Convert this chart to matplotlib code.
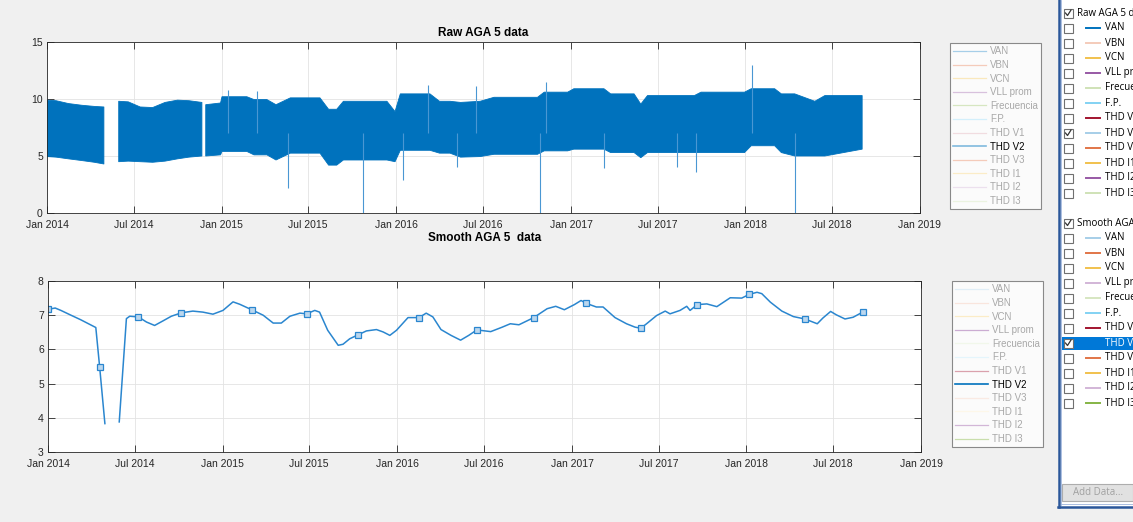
import numpy as np
import pandas as pd
import matplotlib
matplotlib.use('Agg')
import matplotlib.pyplot as plt
import matplotlib.dates as mdates
from matplotlib.lines import Line2D
from matplotlib.patches import Rectangle
from matplotlib.colors import to_rgb

plt.rcParams['font.family'] = ['Liberation Sans', 'DejaVu Sans']

# ------------------------------------------------------------------ data
tick_labels = ['Jan 2014', 'Jul 2014', 'Jan 2015', 'Jul 2015', 'Jan 2016', 'Jul 2016',
               'Jan 2017', 'Jul 2017', 'Jan 2018', 'Jul 2018', 'Jan 2019']

series_names = ['VAN', 'VBN', 'VCN', 'VLL prom', 'Frecuencia', 'F.P.',
                'THD V1', 'THD V2', 'THD V3', 'THD I1', 'THD I2', 'THD I3']
series_colors = ['#0072BD', '#D95319', '#EDB120', '#7E2F8E', '#77AC30', '#4DBEEE',
                 '#A2142F', '#0072BD', '#D95319', '#EDB120', '#7E2F8E', '#77AC30']

# Raw THD V2: envelope of the dense band (upper / lower), NaN = gap
raw_dates = ['2014-01-01', '2014-01-20', '2014-02-15', '2014-03-15', '2014-04-10', '2014-04-30',
             '2014-05-15',
             '2014-05-31', '2014-06-20', '2014-07-15', '2014-08-10', '2014-09-05', '2014-10-01',
             '2014-10-25', '2014-11-21',
             '2014-11-25',
             '2014-11-29', '2014-12-30', '2015-01-02', '2015-02-23', '2015-03-10', '2015-04-06',
             '2015-04-25', '2015-05-25', '2015-07-26', '2015-08-13', '2015-08-30', '2015-09-13',
             '2015-12-13', '2015-12-30', '2016-01-10', '2016-03-12', '2016-04-01', '2016-04-23',
             '2016-05-15', '2016-06-25', '2016-07-24', '2016-10-23', '2016-11-06', '2016-12-25',
             '2017-01-07', '2017-03-11', '2017-03-25', '2017-05-13', '2017-05-27', '2017-06-10',
             '2017-09-16', '2017-09-30', '2017-12-30', '2018-01-13', '2018-03-03', '2018-03-17',
             '2018-04-14', '2018-05-26', '2018-06-16', '2018-09-02']
raw_high = [9.9, 9.85, 9.6, 9.45, 9.35, 9.3,
            np.nan,
            9.8, 9.75, 9.3, 9.25, 9.7, 9.9, 9.85, 9.7,
            np.nan,
            9.5, 9.65, 10.2, 10.2, 9.95, 9.95, 9.5, 10.1, 10.1, 9.1, 9.1, 9.8,
            9.8, 8.9, 10.45, 10.45, 9.8, 9.8, 9.7, 9.8, 10.15, 10.15, 10.6, 10.6,
            10.9, 10.9, 10.45, 10.45, 9.55, 10.3, 10.3, 10.6, 10.6, 10.9, 10.9, 10.45,
            10.45, 9.8, 10.3, 10.3]
raw_low = [4.95, 4.9, 4.75, 4.6, 4.45, 4.3,
           np.nan,
           4.5, 4.55, 4.5, 4.45, 4.55, 4.75, 4.9, 5.0,
           np.nan,
           5.0, 5.1, 5.4, 5.4, 5.1, 5.1, 4.65, 5.25, 5.25, 4.2, 4.2, 4.65,
           4.65, 4.5, 5.5, 5.5, 5.25, 5.25, 4.9, 4.95, 5.15, 5.15, 5.45, 5.45,
           5.6, 5.6, 5.3, 5.3, 4.85, 5.3, 5.3, 5.3, 5.3, 5.9, 5.9, 5.3,
           5.0, 5.0, 5.0, 5.6]

# isolated spikes of the raw series
spike_dates = ['2015-01-14', '2015-03-16', '2015-05-21', '2015-10-23', '2016-01-15', '2016-03-07',
               '2016-05-08', '2016-06-17', '2016-10-28', '2016-11-10', '2017-03-11', '2017-08-11',
               '2017-09-19', '2018-01-15', '2018-04-15']
spike_values = [10.75, 10.7, 2.15, 0.0, 2.9, 11.25, 4.06, 11.1, 0.0, 11.5, 3.97, 4.03,
                3.6, 13.0, 0.0]

# Smoothed THD V2
smooth_dates = ['2014-01-01', '2014-01-16', '2014-01-28', '2014-02-18', '2014-03-10', '2014-04-11',
                '2014-04-19', '2014-04-30', '2014-05-15', '2014-05-30', '2014-06-14', '2014-06-21',
                '2014-07-09', '2014-07-26', '2014-08-12', '2014-08-29', '2014-09-16', '2014-10-07',
                '2014-10-31', '2014-11-21', '2014-12-12', '2015-01-02', '2015-01-23', '2015-02-06',
                '2015-03-03', '2015-03-27', '2015-04-17', '2015-05-04', '2015-05-22', '2015-06-12',
                '2015-06-26', '2015-07-13', '2015-07-23', '2015-08-09', '2015-08-31', '2015-09-10',
                '2015-09-24', '2015-10-12', '2015-10-29', '2015-11-19', '2015-12-03', '2015-12-17',
                '2015-12-31', '2016-01-24', '2016-02-16', '2016-03-02', '2016-03-16', '2016-04-02',
                '2016-04-23', '2016-05-13', '2016-05-30', '2016-06-16', '2016-07-15', '2016-08-08',
                '2016-08-25', '2016-09-12', '2016-10-13', '2016-11-10', '2016-11-28', '2016-12-16',
                '2017-01-06', '2017-01-20', '2017-01-30', '2017-02-21', '2017-03-07', '2017-04-01',
                '2017-04-25', '2017-05-13', '2017-05-25', '2017-06-06', '2017-06-27', '2017-07-15',
                '2017-07-25', '2017-08-15', '2017-08-29', '2017-09-05', '2017-09-20', '2017-10-10',
                '2017-10-31', '2017-11-28', '2017-12-22', '2018-01-07', '2018-01-23', '2018-02-02',
                '2018-02-20', '2018-03-16', '2018-04-09', '2018-05-03', '2018-05-29', '2018-06-10',
                '2018-06-26', '2018-07-08', '2018-07-26', '2018-08-12', '2018-09-01']
smooth_values = [7.17, 7.21, 7.14, 7.00, 6.87, 6.64,
                 5.49, 3.83, np.nan, 3.88, 6.90, 6.97,
                 6.95, 6.80, 6.70, 6.83, 6.97, 7.07,
                 7.12, 7.09, 7.03, 7.14, 7.39, 7.32,
                 7.16, 7.00, 6.77, 6.77, 6.97, 7.06,
                 7.04, 7.14, 7.09, 6.56, 6.12, 6.15,
                 6.31, 6.43, 6.54, 6.58, 6.51, 6.41,
                 6.56, 6.93, 6.93, 7.06, 6.95, 6.58,
                 6.41, 6.27, 6.41, 6.57, 6.52, 6.65,
                 6.75, 6.72, 6.93, 7.19, 7.26, 7.16,
                 7.31, 7.43, 7.35, 7.24, 7.24, 6.93,
                 6.75, 6.65, 6.62, 6.75, 6.99, 7.12,
                 7.04, 7.14, 7.26, 7.14, 7.31, 7.33,
                 7.25, 7.51, 7.50, 7.61, 7.67, 7.63,
                 7.38, 7.12, 6.96, 6.89, 6.75, 6.92,
                 7.11, 7.01, 6.89, 6.94, 7.09]
smooth_marker_dates = ['2014-01-01', '2014-04-19', '2014-07-09', '2014-10-07', '2015-03-03',
                       '2015-06-26', '2015-10-12', '2016-02-16', '2016-06-16', '2016-10-13',
                       '2017-01-30', '2017-05-25', '2017-09-20', '2018-01-07', '2018-05-03',
                       '2018-09-01']

# legend / panel emphasis (1 = active series)
raw_legend_alpha = [0.35, 0.3, 0.3, 0.3, 0.3, 0.25, 0.15, 0.5, 0.3, 0.25, 0.15, 0.15]
smooth_legend_alpha = [0.12, 0.15, 0.25, 0.4, 0.1, 0.15, 0.4, 1.0, 0.12, 0.1, 0.35, 0.4]
raw_panel_alpha = [1.0, 0.3, 0.8, 0.8, 0.35, 0.7, 1.0, 0.35, 0.8, 0.8, 0.8, 0.35]
smooth_panel_alpha = [0.35, 0.8, 0.8, 0.35, 0.3, 0.7, 1.0, 1.0, 0.8, 0.8, 0.35, 0.9]

# ------------------------------------------------------------------ figure
W, H = 1133, 522
fig = plt.figure(figsize=(W / 100, H / 100), dpi=100, facecolor='#F0F0F0')

def fade(c, a):
    r = np.array(to_rgb(c))
    return tuple(1 - a * (1 - r))

ax1 = fig.add_axes([47 / W, 1 - 213 / H, 873 / W, 171 / H])
ax2 = fig.add_axes([48 / W, 1 - 452 / H, 873 / W, 171 / H])

rd = pd.to_datetime(raw_dates)
ax1.fill_between(rd, raw_low, raw_high, color='#0072BD', linewidth=0.6, edgecolor='#0072BD')
sd = pd.to_datetime(spike_dates)
ax1.vlines(sd, 7.0, spike_values, color='#4A97D3', linewidth=0.8)

smd = pd.to_datetime(smooth_dates)
mk = [i for i, d in enumerate(smooth_dates) if d in smooth_marker_dates]
ax2.plot(smd, smooth_values, color='#2A86CF', linewidth=1.1, marker='s', markersize=4.5,
         markevery=mk, markerfacecolor='#BBD7EE', markeredgecolor='#2A86CF', markeredgewidth=0.9)

tick_dates = pd.to_datetime(tick_labels, format='%b %Y')
for ax, ylim, yt, title, pad in [(ax1, (0, 15), [0, 5, 10, 15], 'Raw AGA 5 data', 4.5),
                                 (ax2, (3, 8), [3, 4, 5, 6, 7, 8], 'Smooth AGA 5  data', 28.5)]:
    ax.set_xlim(tick_dates[0], tick_dates[-1])
    ax.set_ylim(*ylim)
    ax.set_yticks(yt)
    ax.set_xticks(tick_dates)
    ax.set_xticklabels(tick_labels)
    ax.tick_params(direction='in', length=5, width=0.6, top=True, right=True,
                   labelsize=7.5, colors='#262626', pad=3)
    ax.tick_params(axis='x', pad=5)
    ax.grid(True, color='#E3E3E3', linewidth=0.6)
    ax.set_axisbelow(True)
    for s in ax.spines.values():
        s.set_color('#262626')
        s.set_linewidth(0.6)
    ax.set_title(title, fontsize=8.5, fontweight='bold', pad=pad, color='#000000')

# ------------------------------------------------------------------ legends
def make_legend(ax, alphas, anchor):
    handles = []
    for i, (n, c) in enumerate(zip(series_names, series_colors)):
        col = fade(c, alphas[i])
        handles.append(Line2D([], [], color=col, linewidth=1.2 if i == 7 else 0.9))
    leg = ax.legend(handles, series_names, loc='upper left', bbox_to_anchor=anchor,
                    bbox_transform=fig.transFigure, fontsize=7, frameon=True,
                    fancybox=False, edgecolor='#6E6E6E', facecolor='white',
                    handlelength=3.4, handletextpad=0.35, labelspacing=0.37,
                    borderpad=0.35, borderaxespad=0)
    leg.get_frame().set_linewidth(0.8)
    for i, t in enumerate(leg.get_texts()):
        t.set_color('#000000' if i == 7 else '#A8A8A8')
    return leg

make_legend(ax1, raw_legend_alpha, (950 / W, 1 - 43 / H))
make_legend(ax2, smooth_legend_alpha, (952 / W, 1 - 281 / H))

# ------------------------------------------------------------------ side panel (property list)
pax = fig.add_axes([0, 0, 1, 1], zorder=10)
pax.set_xlim(0, W)
pax.set_ylim(H, 0)
pax.axis('off')
pax.add_patch(Rectangle((1059, 0), W - 1059, 507, facecolor='white', edgecolor='none'))
pax.plot([1058.5, 1058.5], [0, 507], color='#2B579A', linewidth=1.8)
pax.plot([1061, 1061], [0, 505], color='#9DB4DC', linewidth=0.6)
pax.plot([1058, W], [506.5, 506.5], color='#2B579A', linewidth=1.8)
pax.plot([1061, W], [504, 504], color='#9DB4DC', linewidth=0.6)

def checkbox(y, checked):
    pax.add_patch(Rectangle((1063.5, y - 4.5), 9, 9, facecolor='white',
                            edgecolor='#707070', linewidth=0.8))
    if checked:
        pax.plot([1065.5, 1067.5, 1071], [y, y + 2.5, y - 3], color='#333333', linewidth=0.9)

def group(y0, header, alphas, selected=None):
    checkbox(y0, True)
    pax.text(1077, y0, header, fontsize=7, va='center', ha='left', color='#000000',
             family=['Open Sans', 'DejaVu Sans'], clip_on=True)
    for i, (n, c) in enumerate(zip(series_names, series_colors)):
        y = y0 + 15 * (i + 1)
        if selected == i:
            pax.add_patch(Rectangle((1061.5, y - 6.5), W - 1061.5, 13,
                                    facecolor='#0078D7', edgecolor='none'))
        checkbox(y, i == 7)
        if selected != i:
            pax.plot([1086, 1100], [y, y], color=fade(c, alphas[i]), linewidth=1.4)
        pax.text(1105, y, n, fontsize=7, va='center', ha='left',
                 color='white' if selected == i else '#000000',
                 family=['Open Sans', 'DejaVu Sans'], clip_on=True)

group(13, 'Raw AGA 5 data', raw_panel_alpha)
group(223, 'Smooth AGA 5  data', smooth_panel_alpha, selected=7)

pax.add_patch(Rectangle((1062, 484), W - 1062, 17, facecolor='#E1E1E1',
                        edgecolor='#ADADAD', linewidth=0.8))
pax.text(1073, 492.5, 'Add Data...', fontsize=7, va='center', ha='left', color='#A0A0A0',
         family=['Open Sans', 'DejaVu Sans'])

fig.savefig('out.png', dpi=100, facecolor=fig.get_facecolor())
